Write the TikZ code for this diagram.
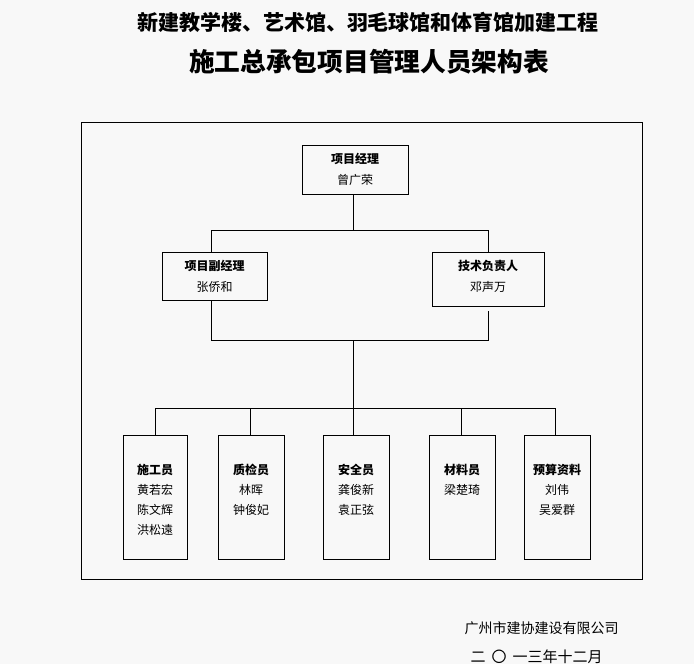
\documentclass[tikz,border=0pt]{standalone}
\usepackage{fontspec}
\setmainfont{Noto Sans CJK SC}
\begin{document}
\begin{tikzpicture}[x=1pt,y=-1pt,
  box/.style={draw=black,line width=1pt,fill=none,inner sep=0pt},
  btxt/.style={inner sep=0pt,align=center,anchor=north,font=\fontsize{12}{20}\selectfont},
  ttxt/.style={inner sep=0pt,align=center,font=\fontsize{12}{21}\selectfont},
  conn/.style={draw=black,line width=1pt}]
\fill[fill={rgb,255:red,248;green,248;blue,248}] (0,0) rectangle (694,664);
\useasboundingbox (0,0) rectangle (694,664);
% titles
\node[inner sep=0pt,font=\fontsize{21}{24}\selectfont\bfseries] (title1) at (368,22) {新建教学楼、艺术馆、羽毛球馆和体育馆加建工程};
\node[inner sep=0pt,font=\fontsize{25.7}{28}\selectfont\bfseries] (title2) at (369,62) {施工总承包项目管理人员架构表};
% frame
\node[box,minimum width=561pt,minimum height=457pt] (frame) at (361.5,350.5) {};
% top boxes
\node[box,minimum width=106pt,minimum height=49pt] (pm) at (355,169.5) {};
\node[ttxt] (pmt) at (pm.center) {\textbf{项目经理}\\曾广荣};
\node[box,minimum width=105pt,minimum height=48pt] (dpm) at (214.5,276) {};
\node[ttxt] (dpmt) at (dpm.center) {\textbf{项目副经理}\\张侨和};
\node[box,minimum width=112pt,minimum height=54pt] (te) at (488,279) {};
\node[ttxt] (tet) at (488,276) {\textbf{技术负责人}\\邓声万};
% bottom boxes
\node[box,minimum width=64pt,minimum height=124pt] (b1) at (155,497) {};
\node[box,minimum width=66pt,minimum height=124pt] (b2) at (251,497) {};
\node[box,minimum width=66pt,minimum height=124pt] (b3) at (356,497) {};
\node[box,minimum width=66pt,minimum height=124pt] (b4) at (462,497) {};
\node[box,minimum width=66pt,minimum height=124pt] (b5) at (557,497) {};
\node[btxt] (t1) at (155,464) {\textbf{施工员}\\黄若宏\\陈文辉\\洪松遠};
\node[btxt] (t2) at (251,464) {\textbf{质检员}\\林晖\\钟俊妃};
\node[btxt] (t3) at (356,464) {\textbf{安全员}\\龚俊新\\袁正弦};
\node[btxt] (t4) at (462,464) {\textbf{材料员}\\梁楚琦};
\node[btxt] (t5) at (557,464) {\textbf{预算资料}\\刘伟\\吴爱群};
% connector points
\coordinate (j1) at (353,230);
\coordinate (j2) at (211,230);
\coordinate (j3) at (488,230);
\coordinate (k1) at (211,340);
\coordinate (k2) at (488,340);
\coordinate (k3) at (488,311);
\coordinate (k4) at (353,340);
\coordinate (m0) at (353,408);
\coordinate (m1) at (155,408);
\coordinate (m5) at (555,408);
% connectors
\draw[conn] (pm.south -| j1) -- (j1);
\draw[conn] (dpm.north -| j2) -- (j2) -- (j3) -- (te.north -| j3);
\draw[conn] (dpm.south -| k1) -- (k1) -- (k2) -- (k3);
\draw[conn] (k4) -- (m0);
\draw[conn] (b1.north -| m1) -- (m1) -- (m5) -- (b5.north -| m5);
\draw[conn] (m0) -- (b3.north -| m0);
\draw[conn] (b2.north -| 250,0) -- (250,408);
\draw[conn] (b4.north -| 461,0) -- (461,408);
% footer
\node[inner sep=0pt,font=\fontsize{14}{16}\selectfont] (co) at (541.5,628) {广州市建协建设有限公司};
\node[inner sep=0pt,font=\fontsize{15}{16}\selectfont] (dt) at (536.5,657) {二\hspace{6pt}〇\hspace{6pt}一三年十二月};
\end{tikzpicture}
\end{document}
